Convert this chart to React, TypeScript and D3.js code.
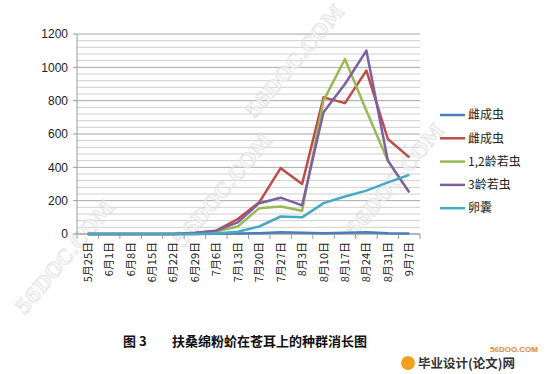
import React from "react";
import * as d3 from "d3";

const dates = [
  "5月25日", "6月1日", "6月8日", "6月15日", "6月22日", "6月29日", "7月6日", "7月13日",
  "7月20日", "7月27日", "8月3日", "8月10日", "8月17日", "8月24日", "8月31日", "9月7日",
];

const femaleA = [0, 0, 0, 0, 0, 0, 2, 3, 5, 10, 8, 5, 7, 10, 5, 3];
const femaleB = [0, 0, 0, 0, 0, 5, 20, 90, 190, 395, 300, 820, 785, 980, 570, 460];
const nymph12 = [0, 0, 0, 0, 0, 3, 15, 45, 155, 165, 140, 800, 1050, 740, 440, 250];
const nymph3 = [0, 0, 0, 0, 0, 8, 20, 70, 185, 218, 172, 730, 900, 1100, 440, 250];
const eggSac = [0, 0, 0, 0, 0, 0, 3, 14, 45, 105, 100, 185, 225, 260, 310, 355];

const seriesNames = ["雌成虫", "雌成虫", "1,2龄若虫", "3龄若虫", "卵囊"];
const seriesColors = ["#4a7ebb", "#be4b48", "#98b954", "#7d60a0", "#46aac5"];
const yTicks = [0, 200, 400, 600, 800, 1000, 1200];

const W = 559;
const H = 374;
const m = { left: 77, right: 139, top: 34, bottom: 140 };

export default function App() {
  const series = [femaleA, femaleB, nymph12, nymph3, eggSac];

  const x = d3.scaleBand<string>().domain(dates).range([m.left, W - m.right]);
  const y = d3.scaleLinear().domain([0, 1200]).range([H - m.bottom, m.top]);
  const cx = (d: string) => (x(d) ?? 0) + x.bandwidth() / 2;

  const line = d3
    .line<number>()
    .x((_, i) => cx(dates[i]))
    .y((v) => y(v));

  const minor = d3.range(0, 1201, 40);
  const font = "'Liberation Sans', Arial, sans-serif";
  const cjk = "'Noto Sans CJK SC', sans-serif";

  // faint diagonal site watermarks
  const watermarks = [
    { t: "56DOC.COM", x: 300, y: 66 },
    { t: "56DOC.COM", x: 228, y: 195 },
    { t: "56DOC.COM", x: 400, y: 185 },
    { t: "56DOC.COM", x: 70, y: 262 },
  ];

  return (
    <div style={{ position: "absolute", left: 0, top: 0 }}>
      <svg width={W} height={H} style={{ display: "block", background: "#fff" }}>
        {/* gridlines */}
        {minor.map((v) => (
          <line
            key={v}
            x1={m.left}
            x2={W - m.right}
            y1={y(v)}
            y2={y(v)}
            stroke={v % 200 === 0 ? "#a6a6a6" : "#cfcfcf"}
            strokeWidth={1}
          />
        ))}

        {/* watermarks */}
        {watermarks.map((w, i) => (
          <text
            key={"w" + i}
            transform={`translate(${w.x},${w.y}) rotate(-50)`}
            textAnchor="middle"
            fontSize={20}
            fontFamily="'DejaVu Serif', serif"
            fontWeight="bold"
            fill="#f4f4f4"
            stroke="#dcdcdc"
            strokeWidth={0.8}
            opacity={0.75}
          >
            {w.t}
          </text>
        ))}

        {/* axes */}
        <line x1={m.left} x2={m.left} y1={m.top} y2={y(0)} stroke="#9a9a9a" />
        <line x1={m.left} x2={W - m.right} y1={y(0)} y2={y(0)} stroke="#9a9a9a" />
        {yTicks.map((v) => (
          <g key={v}>
            <line x1={m.left - 4} x2={m.left} y1={y(v)} y2={y(v)} stroke="#9a9a9a" />
            <text x={m.left - 9} y={y(v)} dy="0.35em" textAnchor="end" fontSize={12} fontFamily={font} fill="#222">
              {v}
            </text>
          </g>
        ))}
        {dates.map((d, i) => (
          <line
            key={"t" + i}
            x1={x(d) ?? 0}
            x2={x(d) ?? 0}
            y1={y(0)}
            y2={y(0) + 5}
            stroke="#9a9a9a"
          />
        ))}
        <line x1={W - m.right} x2={W - m.right} y1={y(0)} y2={y(0) + 5} stroke="#9a9a9a" />
        {dates.map((d) => (
          <text
            key={d}
            transform={`translate(${cx(d) + 4},${y(0) + 8}) rotate(-90)`}
            textAnchor="end"
            fontSize={11}
            fontFamily={cjk}
            fill="#222"
          >
            {d}
          </text>
        ))}

        {/* series */}
        {series.map((s, k) => (
          <path
            key={k}
            d={line(s) ?? ""}
            fill="none"
            stroke={seriesColors[k]}
            strokeWidth={2.5}
            strokeLinejoin="round"
          />
        ))}

        {/* legend */}
        {seriesNames.map((n, k) => {
          const ly = 115 + k * 23.3;
          return (
            <g key={k}>
              <line x1={440} x2={465} y1={ly} y2={ly} stroke={seriesColors[k]} strokeWidth={2.5} />
              <text x={468} y={ly} dy="0.35em" fontSize={12} fontFamily={cjk} fill="#222">
                {n}
              </text>
            </g>
          );
        })}

        {/* caption */}
        <text x={123} y={346} fontSize={13} fontWeight="bold" fontFamily={cjk} fill="#111">
          图 3
        </text>
        <text x={172} y={346} fontSize={13} fontWeight="bold" fontFamily={cjk} fill="#111">
          扶桑绵粉蚧在苍耳上的种群消长图
        </text>

        {/* site logo */}
        <circle cx={408} cy={363} r={7} fill="#f0a020" />
        <text x={538} y={352} textAnchor="end" fontSize={8} fontWeight="bold" fontFamily={font} fill="#e08a1e">
          56DOO.COM
        </text>
        <text x={418} y={368} fontSize={12.5} fontWeight="bold" fontFamily={cjk} fill="#333">
          毕业设计(论文)网
        </text>
      </svg>
    </div>
  );
}
